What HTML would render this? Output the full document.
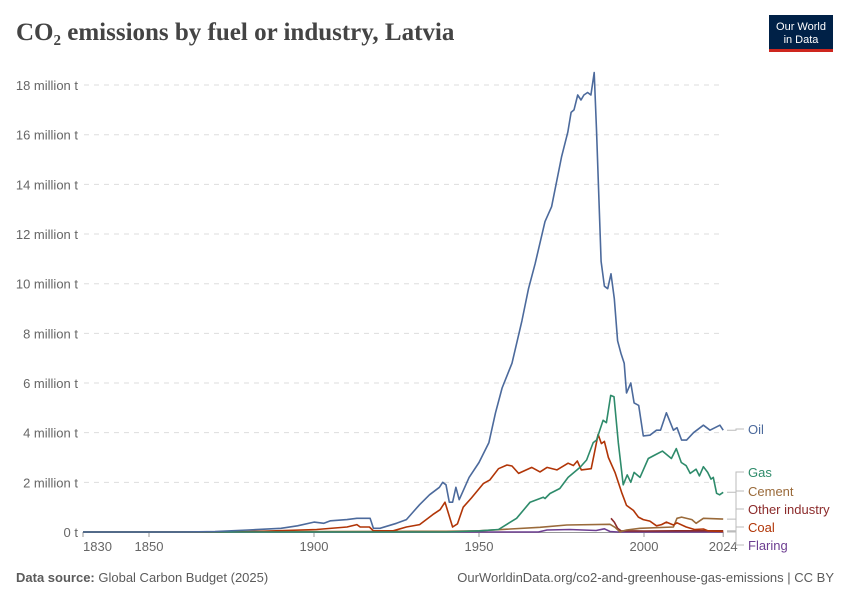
<!DOCTYPE html>
<html><head><meta charset="utf-8"><style>
body{margin:0;background:#fff;font-family:"Liberation Sans",sans-serif}
</style></head><body>
<svg id="c" width="850" height="600" viewBox="0 0 850 600" xmlns="http://www.w3.org/2000/svg" font-family="Liberation Sans, sans-serif">
<text x="16" y="40" style="font-family:'Liberation Serif',serif;font-size:25px;font-weight:bold" fill="#444">CO₂ emissions by fuel or industry, Latvia</text>
<g>
<rect x="769" y="15" width="64" height="36" fill="#002147"/>
<rect x="769" y="49" width="64" height="3" fill="#ce261e"/>
<text x="801" y="30" font-size="11" fill="#fff" text-anchor="middle">Our World</text>
<text x="801" y="43" font-size="11" fill="#fff" text-anchor="middle">in Data</text>
</g>
<g id="grid"></g><g id="axes"></g><g id="lines"></g><g id="labels"></g>
<text x="16" y="582" font-size="13" fill="#5b5b5b"><tspan font-weight="bold">Data source:</tspan> Global Carbon Budget (2025)</text>
<text x="834" y="582" font-size="13" fill="#5b5b5b" text-anchor="end">OurWorldinData.org/co2-and-greenhouse-gas-emissions | CC BY</text>
</svg>
<script>
const yTicks=[0,2,4,6,8,10,12,14,16,18];
const yTickLabels=["0 t","2 million t","4 million t","6 million t","8 million t","10 million t","12 million t","14 million t","16 million t","18 million t"];
const xTicks=[1830,1850,1900,1950,2000,2024];
const oilYears=[1830,1860,1870,1880,1890,1895,1900,1903,1905,1910,1913,1917,1918,1920,1925,1928,1930,1932,1935,1938,1939,1940,1941,1942,1943,1944,1945,1947,1950,1953,1955,1957,1960,1963,1965,1967,1970,1972,1975,1976.9,1977.9,1978.8,1979.9,1980.9,1981.8,1982.9,1983.9,1984.9,1985.6,1987,1988,1989,1990,1991,1992,1993,1994,1994.7,1996,1997,1998.4,1999.8,2001.8,2003.8,2005,2006.8,2008.9,2010,2011.4,2012.9,2015,2018,2020,2023,2024];
const oilValues=[0,0,0.02,0.08,0.15,0.25,0.4,0.35,0.45,0.5,0.55,0.55,0.15,0.15,0.35,0.5,0.8,1.1,1.5,1.8,2.0,1.9,1.2,1.2,1.8,1.3,1.6,2.2,2.8,3.6,4.8,5.8,6.8,8.5,9.8,10.8,12.5,13.1,15.1,16.1,16.9,17.0,17.6,17.4,17.6,17.7,17.6,18.5,16.2,10.9,9.9,9.8,10.4,9.4,7.7,7.2,6.8,5.6,6.0,5.2,5.1,3.87,3.9,4.1,4.1,4.8,4.1,4.2,3.7,3.7,4.0,4.3,4.1,4.3,4.1];
const gasYears=[1830,1940,1950.3,1955.9,1961.4,1965.5,1969.5,1970,1971.5,1974.5,1977,1980.6,1982.6,1984.6,1985.6,1987.6,1988.6,1989.9,1990.9,1992.2,1993.7,1994.9,1996,1997,1998.8,2001.3,2003.3,2005.6,2008.3,2009.8,2011.3,2012.8,2014,2015.8,2016.8,2018,2019.3,2020.3,2021,2022,2022.9,2024];
const gasValues=[0,0,0.05,0.1,0.55,1.2,1.4,1.35,1.55,1.75,2.2,2.6,2.9,3.6,3.7,4.5,4.4,5.5,5.45,3.6,1.9,2.3,2.0,2.4,2.2,2.96,3.1,3.26,2.96,3.36,2.8,2.67,2.36,2.53,2.26,2.63,2.4,2.13,2.2,1.56,1.5,1.6];
const coalYears=[1830,1870.5,1883.6,1900.8,1910,1913,1914,1916.8,1918,1924,1928,1932,1936,1938.2,1939.7,1942,1943.5,1945.2,1947.7,1951.3,1953.3,1955.9,1958.5,1960,1962,1966,1968.5,1970.6,1973.6,1977,1978.6,1979.8,1981,1984,1985,1986.1,1987.1,1988,1989.2,1991.2,1993.2,1994.7,1996.8,1998.3,1999.8,2001.8,2003.8,2005.3,2006.8,2008.9,2010,2012.8,2015.3,2018,2019.3,2024];
const coalValues=[0,0,0.03,0.1,0.2,0.3,0.2,0.2,0.05,0.05,0.2,0.3,0.7,0.9,1.2,0.2,0.33,1.0,1.37,1.95,2.1,2.55,2.7,2.66,2.36,2.6,2.42,2.6,2.5,2.77,2.68,2.86,2.5,2.55,3.2,3.93,3.56,3.65,3.0,2.4,1.6,1.07,0.87,0.6,0.5,0.44,0.25,0.3,0.4,0.28,0.37,0.2,0.1,0.12,0.05,0.02];
const cementYears=[1830,1875,1900,1930,1940,1950,1968.5,1976.6,1989.7,1991.2,1992.7,1994.7,1998.8,2008.9,2010,2011.4,2014.5,2015.8,2018,2024];
const cementValues=[0,0.01,0.02,0.03,0.03,0.05,0.19,0.28,0.31,0.19,0.01,0.08,0.15,0.2,0.55,0.6,0.5,0.35,0.55,0.52];
const otherYears=[1990,1991,1992,1993,2000,2010,2024];
const otherValues=[0.55,0.4,0.15,0.05,0.04,0.05,0.05];
const flaringYears=[1830,1968,1970.6,1977.5,1985.5,1988,1989.7,1992,2024];
const flaringValues=[0,0,0.08,0.1,0.06,0.13,0.02,0,0];

const X=y=>83+(y-1830)*3.3;
const Y=v=>532-v*24.83;
const NS="http://www.w3.org/2000/svg";
function mk(t,a,p){const e=document.createElementNS(NS,t);for(const k in a)e.setAttribute(k,a[k]);p.appendChild(e);return e;}
const grid=document.getElementById('grid'),axes=document.getElementById('axes'),lines=document.getElementById('lines'),labels=document.getElementById('labels');
yTicks.forEach((v,i)=>{
  if(v>0){const l=mk('line',{x1:84,x2:722,y1:Y(v),y2:Y(v),stroke:'#ddd','stroke-dasharray':'5,5'},grid);
  
  }
  const t=mk('text',{x:78,y:Y(v)+5,'font-size':13,fill:'#666','text-anchor':'end'},axes);
  t.textContent=yTickLabels[i];
  
  
});
const ax=mk('line',{x1:83,x2:723,y1:532.5,y2:532.5,stroke:'#999'},axes);


xTicks.forEach((yr,i)=>{
  mk('line',{x1:X(yr),x2:X(yr),y1:532,y2:537,stroke:'#999'},axes);
  const t=mk('text',{x:X(yr),y:551,'font-size':13,fill:'#666','text-anchor':i==0?'start':'middle'},axes);
  t.textContent=yr;
  
  
});
const series=[
 ['flaring',flaringYears,flaringValues,'#6D3E91','Flaring',545],
 ['other-industry',otherYears,otherValues,'#8C2B2B','Other industry',509],
 ['cement',cementYears,cementValues,'#9A6A3A','Cement',491],
 ['coal',coalYears,coalValues,'#B13507','Coal',527],
 ['gas',gasYears,gasValues,'#2E8B6B','Gas',472],
 ['oil',oilYears,oilValues,'#4C6A9C','Oil',429]];
series.forEach(([n,ys,vs,c,lab,ly])=>{
  const d=ys.map((y,i)=>(i?'L':'M')+X(y).toFixed(1)+','+Y(vs[i]).toFixed(1)).join('');
  const p=mk('path',{d:d,fill:'none',stroke:c,'stroke-width':1.6,'stroke-linejoin':'round'},lines);
  
  
  const endY=Y(vs[vs.length-1]);
  mk('path',{d:`M727,${endY}H736V${ly}H744`,fill:'none',stroke:'#bbb'},labels);
  const t=mk('text',{x:748,y:ly+5,'font-size':13,fill:c},labels);
  t.textContent=lab;
  
  
});
</script>
</body></html>
